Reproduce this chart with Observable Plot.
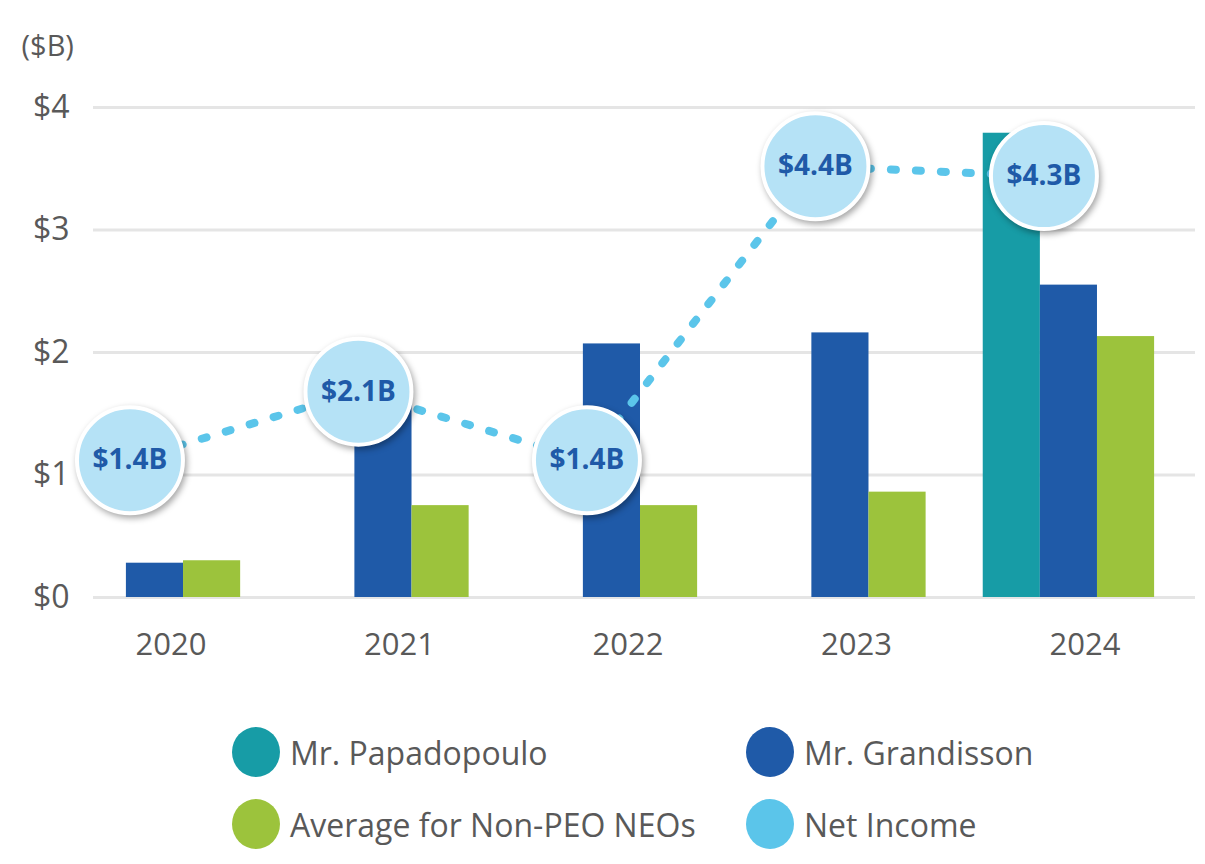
<!DOCTYPE html>
<html>
<head>
<meta charset="utf-8">
<script src="https://cdn.jsdelivr.net/npm/d3@7"></script>
<script src="https://cdn.jsdelivr.net/npm/@observablehq/plot@0.6"></script>
<style>
  html, body { margin: 0; padding: 0; background: #fff; }
  body { width: 1205px; height: 864px; overflow: hidden; font-family: "Open Sans", sans-serif; }
  #chart svg { display: block; overflow: visible; }
  #chart g[aria-label="dot"] circle { filter: drop-shadow(2px 3px 3px rgba(0,0,0,0.35)); }
  .legend { position: relative; height: 174px; color: #595959; font-size: 32px; }
  .item { position: absolute; display: flex; align-items: center; white-space: nowrap; }
  .sw { width: 48px; height: 50px; border-radius: 50%; margin-right: 10px; }
</style>
</head>
<body>
<div id="chart"></div>
<div class="legend" id="legend"></div>
<script>
const years = ["2020", "2021", "2022", "2023", "2024"];
const seriesNames = ["Mr. Papadopoulo", "Mr. Grandisson", "Average for Non-PEO NEOs"];
const papadopoulo = [null, null, null, null, 3.79];
const grandisson = [0.28, 1.64, 2.07, 2.16, 2.55];
const nonPeo = [0.30, 0.75, 0.75, 0.86, 2.13];
const netIncome = [1.4, 2.1, 1.4, 4.4, 4.3];
const yTicks = [0, 1, 2, 3, 4];
const netIncomeAxisMax = 5; // secondary axis top aligned with $4

const colors = ["#179ca6", "#1f5aa8", "#9cc33c"];
const niColor = "#5bc5ea";

const seriesValues = [papadopoulo, grandisson, nonPeo];
const bars = [];
seriesValues.forEach((vals, k) => vals.forEach((v, i) => {
  if (v != null) bars.push({i, k, series: seriesNames[k], value: v});
}));
const barW = 0.25;
const ni = netIncome.map((v, i) => ({i, v, axisV: v * 4 / netIncomeAxisMax, label: "$" + v.toFixed(1) + "B"}));

const chart = Plot.plot({
  width: 1205,
  height: 690,
  marginLeft: 93,
  marginRight: 10,
  marginTop: 107,
  marginBottom: 93,
  style: {fontFamily: "'Open Sans', sans-serif", color: "#595959", background: "#fff"},
  x: {type: "linear", domain: [-0.269, 4.554]},
  y: {domain: [0, 4]},
  color: {domain: seriesNames, range: colors},
  marks: [
    Plot.ruleY(yTicks, {stroke: "#e5e5e5", strokeWidth: 3}),
    Plot.axisY(yTicks, {tickSize: 0, tickPadding: 24, tickFormat: d => "$" + d, fontSize: 32, label: null}),
    Plot.axisX(years.map((d, i) => i), {tickSize: 0, tickPadding: 35, tickFormat: d => years[d], fontSize: 31, dx: 16, label: null}),
    Plot.text(["($B)"], {frameAnchor: "top-left", dx: -72, dy: -72, textAnchor: "start", fontSize: 29, fill: "#595959"}),
    Plot.rectY(bars, {
      x1: d => d.i + (d.k - 1.5) * barW,
      x2: d => d.i + (d.k - 0.5) * barW,
      y1: 0, y2: "value", fill: "series"
    }),
    Plot.line(ni, {x: "i", y: "axisV", dx: -25, stroke: niColor, strokeWidth: 8, strokeDasharray: "5,20", strokeLinecap: "round"}),
    Plot.dot(ni, {x: "i", y: "axisV", dx: -25, r: 53, fill: "#b5e2f6", stroke: "#fff", strokeWidth: 4}),
    Plot.text(ni, {x: "i", y: "axisV", dx: -25, text: "label", fill: "#1f5aa8", fontSize: 28, fontWeight: 700})
  ]
});
document.getElementById("chart").appendChild(chart);

const legendItems = [
  {name: seriesNames[0], color: colors[0], left: 232, top: 37},
  {name: seriesNames[1], color: colors[1], left: 746, top: 37},
  {name: seriesNames[2], color: colors[2], left: 232, top: 109},
  {name: "Net Income", color: niColor, left: 746, top: 109}
];
const legend = document.getElementById("legend");
legendItems.forEach(it => {
  const el = document.createElement("div");
  el.className = "item";
  el.style.left = it.left + "px";
  el.style.top = it.top + "px";
  const sw = document.createElement("span");
  sw.className = "sw";
  sw.style.background = it.color;
  const t = document.createElement("span");
  t.textContent = it.name;
  el.appendChild(sw); el.appendChild(t);
  legend.appendChild(el);
});
</script>
</body>
</html>
